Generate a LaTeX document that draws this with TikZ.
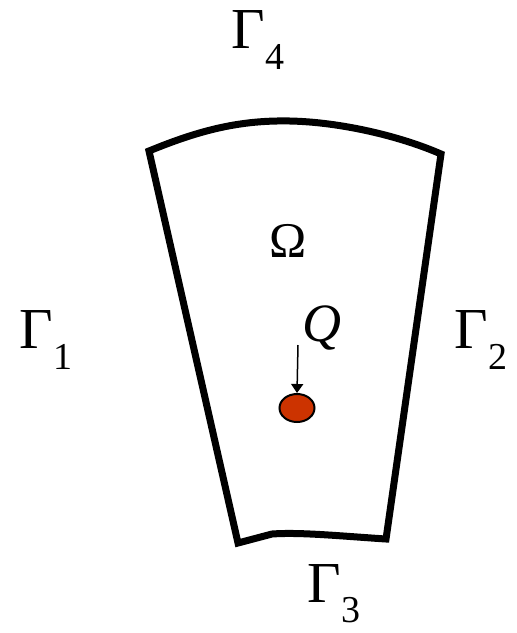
\documentclass[tikz,border=0pt]{standalone}
\usepackage{fontspec}
\setmainfont{Liberation Serif}
\usetikzlibrary{arrows.meta,shapes.geometric}
\definecolor{srcred}{RGB}{204,51,0}
\tikzset{
  bound/.style={line width=7pt, line join=miter},
  lbl/.style={inner sep=0pt, font=\fontsize{58}{60}\selectfont},
}
\newcommand{\gsub}[2]{#1\raisebox{-0.35em}{\fontsize{38}{40}\selectfont #2}}
\begin{document}
\begin{tikzpicture}[x=1pt,y=-1pt]
\useasboundingbox (0,0) rectangle (517,633);
\coordinate (tl) at (149,151);
\coordinate (tr) at (441,154);
\coordinate (br) at (386,539);
\coordinate (bl) at (238,543);
\coordinate (bm) at (272,534);
\draw[bound] (bl) -- (tl) .. controls (200,130) and (240,120) .. (290,121) .. controls (340,122) and (400,136) .. (tr) -- (br) .. controls (340,536) and (300,532) .. (bm) -- cycle;
\node[lbl] (g4) at (258,40) {\gsub{Γ}{4}};
\node[lbl] (g1) at (46,340) {\gsub{Γ}{1}};
\node[lbl] (g2) at (481,340) {\gsub{Γ}{2}};
\node[lbl] (g3) at (334,594) {\gsub{Γ}{3}};
\node[inner sep=0pt, font=\fontsize{50}{52}\selectfont] (om) at (288,241) {Ω};
\node[inner sep=0pt, font=\fontsize{54}{56}\selectfont\itshape] (q) at (322,328) {Q};
\node[ellipse, draw=black, line width=2pt, fill=srcred, minimum width=35pt, minimum height=28pt, inner sep=0pt] (src) at (297,408) {};
\coordinate (qs) at (298,345);
\draw[line width=1.5pt, -{Triangle[width=12pt,length=9pt]}] (qs) -- (src.north);
\end{tikzpicture}
\end{document}
